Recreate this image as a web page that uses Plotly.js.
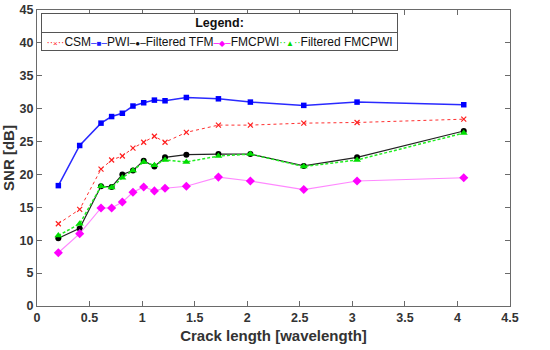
<!DOCTYPE html>
<html>
<head>
<meta charset="utf-8">
<script src="https://cdn.plot.ly/plotly-3.0.1.min.js"></script>
<style>html,body{margin:0;padding:0;background:#fff;}#chart{width:550px;height:350px;}</style>
</head>
<body>
<div id="chart"></div>
<script>
const crackLength = [0.203, 0.406, 0.609, 0.71, 0.812, 0.913, 1.015, 1.117, 1.218, 1.421, 1.726, 2.03, 2.538, 3.045, 4.06];
const csm = [12.5, 14.7, 20.8, 22.2, 22.8, 24.0, 24.9, 25.8, 24.9, 26.4, 27.5, 27.5, 27.8, 27.9, 28.4];
const pwi = [18.3, 24.4, 27.8, 28.8, 29.3, 30.4, 30.9, 31.3, 31.2, 31.7, 31.5, 31.0, 30.5, 31.0, 30.6];
const filteredTfm = [10.3, 11.8, 18.2, 18.1, 20.0, 20.6, 22.1, 21.2, 22.6, 23.0, 23.1, 23.1, 21.3, 22.6, 26.6];
const fmcpwi = [8.1, 11.0, 14.9, 14.9, 15.8, 17.3, 18.1, 17.5, 17.9, 18.2, 19.6, 19.0, 17.7, 19.0, 19.5];
const filteredFmcpwi = [10.7, 12.5, 18.2, 18.0, 19.5, 20.6, 21.9, 21.4, 22.2, 21.9, 22.8, 23.1, 21.2, 22.2, 26.3];
const seriesNames = ['CSM', 'PWI', 'Filtered TFM', 'FMCPWI', 'Filtered FMCPWI'];
const legendTitle = 'Legend:';

const font = 'Liberation Sans, Arial, sans-serif';
const colors = ['#ff2020', '#1a1aff', '#111111', '#ff00ff', '#00dd00'];
const glyphs = ['\u00d7', '\u25a0', '\u25cf', '\u25c6', '\u25b2'];
const dashes = ['\u00b7\u00b7', '\u2013', '\u2013', '\u2013', '\u00b7\u00b7'];

const traces = [
  {x: crackLength, y: csm, name: seriesNames[0], mode: 'lines+markers',
   line: {color: '#ff3030', width: 1, dash: 'dot'},
   marker: {symbol: 'x-thin', size: 5, color: '#ff2020', line: {color: '#ff2020', width: 1.2}}},
  {x: crackLength, y: pwi, name: seriesNames[1], mode: 'lines+markers',
   line: {color: '#2a2aff', width: 1.5},
   marker: {symbol: 'square', size: 5.5, color: '#0000ff'}},
  {x: crackLength, y: filteredTfm, name: seriesNames[2], mode: 'lines+markers',
   line: {color: '#222222', width: 1.2},
   marker: {symbol: 'circle', size: 6, color: '#000000'}},
  {x: crackLength, y: fmcpwi, name: seriesNames[3], mode: 'lines+markers',
   line: {color: '#ff88ff', width: 1.2},
   marker: {symbol: 'diamond', size: 7, color: '#ff00ff'}},
  {x: crackLength, y: filteredFmcpwi, name: seriesNames[4], mode: 'lines+markers',
   line: {color: '#22ee22', width: 1.5, dash: '3px,2px'},
   marker: {symbol: 'triangle-up', size: 7, color: '#00dd00'}}
];

const legendEntries = seriesNames.map((n, i) =>
  '<span style="color:' + colors[i] + ';font-size:10px">' + dashes[i] +
  '<span style="font-size:8px">' + glyphs[i] + '</span>' + dashes[i] + '</span>' + n
).join('');

const axisCommon = {
  showline: true, linecolor: '#6a6a6a', linewidth: 1, mirror: 'ticks',
  ticks: 'inside', ticklen: 5, tickcolor: '#6a6a6a', showgrid: false, zeroline: false,
  tickfont: {family: font, size: 12.5, color: '#333', weight: 'bold'}
};

const plotL = 37, plotT = 10, plotW = 473, plotH = 296;
const px2x = p => (p - plotL) / plotW;
const py2y = p => 1 - (p - plotT) / plotH;

const layout = {
  width: 550, height: 350,
  margin: {l: plotL, r: 550 - plotL - plotW, t: plotT, b: 350 - plotT - plotH},
  paper_bgcolor: '#fff', plot_bgcolor: '#fff',
  showlegend: false,
  xaxis: Object.assign({}, axisCommon, {
    range: [0, 4.5], dtick: 0.5, tick0: 0,
    title: {text: 'Crack length [wavelength]', font: {family: font, size: 15, color: '#333', weight: 'bold'}, standoff: 6}
  }),
  yaxis: Object.assign({}, axisCommon, {
    range: [0, 45], dtick: 5, tick0: 0,
    title: {text: 'SNR [dB]', font: {family: font, size: 15, color: '#333', weight: 'bold'}, standoff: 4}
  }),
  annotations: [
    {xref: 'paper', yref: 'paper', x: px2x(41), y: py2y(13), xanchor: 'left', yanchor: 'top',
     text: '<b>' + legendTitle + '</b>', showarrow: false, width: 355, height: 18, align: 'center', valign: 'middle',
     bgcolor: '#fff', bordercolor: '#555', borderwidth: 1, borderpad: 0,
     font: {family: font, size: 12.5, color: '#111'}},
    {xref: 'paper', yref: 'paper', x: px2x(41), y: py2y(32), xanchor: 'left', yanchor: 'top',
     text: legendEntries, showarrow: false, width: 355, height: 17, align: 'center', valign: 'middle',
     bgcolor: '#fff', bordercolor: '#555', borderwidth: 1, borderpad: 0,
     font: {family: font, size: 12, color: '#111'}}
  ]
};

Plotly.newPlot('chart', traces, layout, {displayModeBar: false, staticPlot: true});
</script>
</body>
</html>
